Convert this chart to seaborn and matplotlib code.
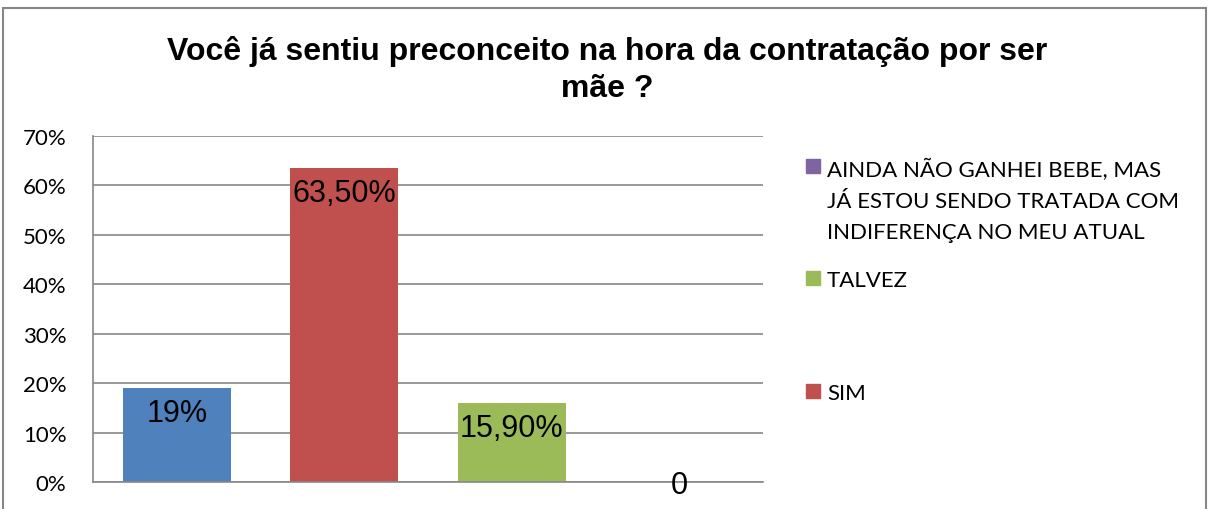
import numpy as np
import pandas as pd
import matplotlib
matplotlib.use("Agg")
import matplotlib.pyplot as plt
import seaborn as sns
from matplotlib.patches import Rectangle

# data
categorias = ["NÃO", "SIM", "TALVEZ", "AINDA NÃO GANHEI BEBE, MAS\nJÁ ESTOU SENDO TRATADA COM\nINDIFERENÇA NO MEU ATUAL"]
valores = [0.19, 0.635, 0.159, 0.0]
rotulos = ["19%", "63,50%", "15,90%", "0"]
cores = ["#4F81BD", "#C0504D", "#9BBB59", "#8064A2"]
titulo = "Você já sentiu preconceito na hora da contratação por ser\nmãe ?"

df = pd.DataFrame({"cat": categorias, "val": valores})

sns.set_style("white")
fig = plt.figure(figsize=(12.09, 5.10), dpi=100)
ax = fig.add_axes([93/1209, 27/510, 670/1209, 346/510])

sns.barplot(data=df, x="cat", y="val", hue="cat", palette=cores, width=0.645,
            legend=False, ax=ax, saturation=1, linewidth=0)

ax.set_ylim(0, 0.7)
ax.set_xlim(-0.5, 3.5)
ax.set_yticks(np.arange(0, 0.71, 0.1))
ax.set_yticklabels([f"{int(round(t*100))}%" for t in np.arange(0, 0.71, 0.1)],
                   fontsize=16, family="Lato", color="black")
ax.tick_params(axis="y", length=0, pad=19)
ax.set_xticks([])
ax.set_xlabel("")
ax.set_ylabel("")
ax.yaxis.grid(True, color="#878787", lw=1.2)
ax.set_axisbelow(True)
for s in ["top", "right"]:
    ax.spines[s].set_visible(False)
for s in ["left", "bottom"]:
    ax.spines[s].set_color("#878787")
    ax.spines[s].set_linewidth(1.2)

# data labels
for i, (v, r) in enumerate(zip(valores, rotulos)):
    off = -25 if v > 0 else -3
    ax.annotate(r, (i, v), xytext=(0, off), textcoords="offset pixels",
                ha="center", va="center", fontsize=22, family="Liberation Sans", color="black")

fig.text(607/1209, 1 - 70/510, titulo, ha="center", va="center", fontsize=23,
         fontweight="bold", family="Liberation Sans", linespacing=1.32, color="black")

# legend (blue entry is cut off in the original)
leg = [(3, 167), (2, 279), (1, 392)]
for idx, yc in leg:
    fig.patches.append(Rectangle((806/1209, 1 - (yc + 7)/510), 14/1209, 14/510,
                                 transform=fig.transFigure, color=cores[idx], figure=fig))
    fig.text(827/1209, 1 - (yc - 8)/510, categorias[idx], ha="left", va="top",
             fontsize=16, family="Lato", linespacing=1.68, color="black")

# outer chart border
fig.patches.append(Rectangle((3/1209, -0.05), 1203/1209, 1.05 - 9/510, transform=fig.transFigure,
                             fill=False, edgecolor="#868686", lw=1.5, figure=fig))

fig.savefig("out.png", dpi=100)
